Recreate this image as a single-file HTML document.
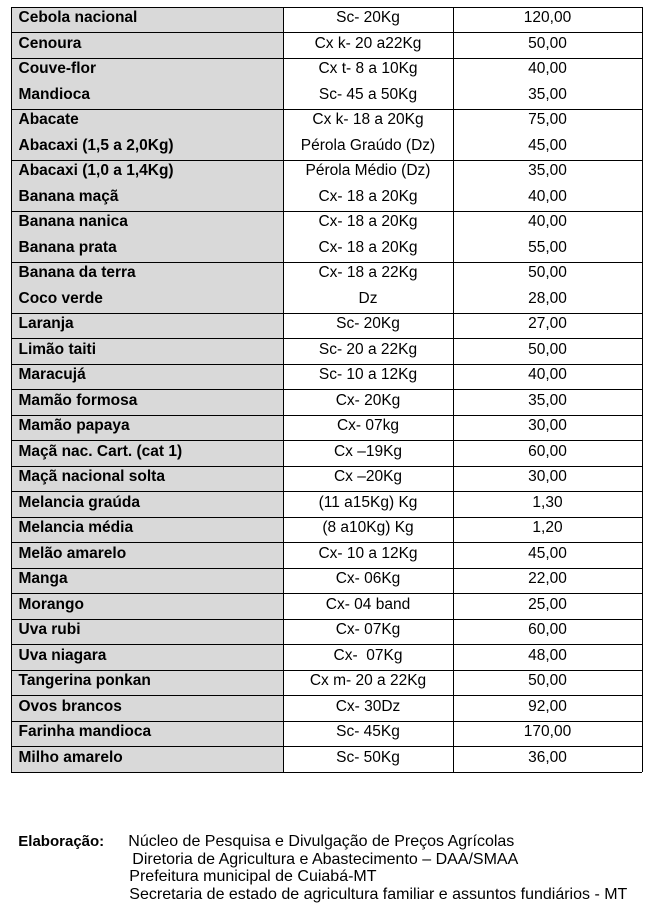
<!DOCTYPE html>
<html>
<head>
<meta charset="utf-8">
<style>
  html, body { margin:0; padding:0; background:#fff; }
  body { width:654px; height:920px; position:relative; overflow:hidden;
         font-family:"Liberation Sans", Arial, sans-serif; color:#000; }
  .gray { position:absolute; left:11px; top:7px; width:272px; height:765px; background:#d9d9d9; }
  .hl { position:absolute; left:11px; width:631px; height:1px; background:#000; }
  .vl { position:absolute; top:7px; width:1px; height:765px; background:#000; }
  .r { position:absolute; left:0; width:654px; height:21px; line-height:21px; font-size:15.5px; white-space:nowrap; }
  .c1 { position:absolute; left:18.5px; font-weight:bold; }
  .c2 { position:absolute; left:283px; width:170px; text-align:center; }
  .c3 { position:absolute; left:453px; width:189px; text-align:center; }
  .ft { position:absolute; line-height:18px; white-space:nowrap; }
</style>
</head>
<body>
<div class="gray"></div>

<div class="hl" style="top:7px"></div>
<div class="hl" style="top:32px"></div>
<div class="hl" style="top:58px"></div>
<div class="hl" style="top:109px"></div>
<div class="hl" style="top:160px"></div>
<div class="hl" style="top:211px"></div>
<div class="hl" style="top:262px"></div>
<div class="hl" style="top:313px"></div>
<div class="hl" style="top:338px"></div>
<div class="hl" style="top:364px"></div>
<div class="hl" style="top:389px"></div>
<div class="hl" style="top:415px"></div>
<div class="hl" style="top:440px"></div>
<div class="hl" style="top:466px"></div>
<div class="hl" style="top:491px"></div>
<div class="hl" style="top:517px"></div>
<div class="hl" style="top:542px"></div>
<div class="hl" style="top:568px"></div>
<div class="hl" style="top:593px"></div>
<div class="hl" style="top:619px"></div>
<div class="hl" style="top:644px"></div>
<div class="hl" style="top:670px"></div>
<div class="hl" style="top:695px"></div>
<div class="hl" style="top:721px"></div>
<div class="hl" style="top:746px"></div>
<div class="hl" style="top:772px"></div>

<div class="vl" style="left:11px"></div>
<div class="vl" style="left:283px"></div>
<div class="vl" style="left:453px"></div>
<div class="vl" style="left:642px"></div>

<div class="r" style="top:7px"><span class="c1">Cebola nacional</span><span class="c2">Sc- 20Kg</span><span class="c3">120,00</span></div>
<div class="r" style="top:32.5px"><span class="c1">Cenoura</span><span class="c2">Cx k- 20 a22Kg</span><span class="c3">50,00</span></div>
<div class="r" style="top:58px"><span class="c1">Couve-flor</span><span class="c2">Cx t- 8 a 10Kg</span><span class="c3">40,00</span></div>
<div class="r" style="top:83.5px"><span class="c1">Mandioca</span><span class="c2">Sc- 45 a 50Kg</span><span class="c3">35,00</span></div>
<div class="r" style="top:109px"><span class="c1">Abacate</span><span class="c2">Cx k- 18 a 20Kg</span><span class="c3">75,00</span></div>
<div class="r" style="top:134.5px"><span class="c1">Abacaxi (1,5 a 2,0Kg)</span><span class="c2">Pérola Graúdo (Dz)</span><span class="c3">45,00</span></div>
<div class="r" style="top:160px"><span class="c1">Abacaxi (1,0 a 1,4Kg)</span><span class="c2">Pérola Médio (Dz)</span><span class="c3">35,00</span></div>
<div class="r" style="top:185.5px"><span class="c1">Banana maçã</span><span class="c2">Cx- 18 a 20Kg</span><span class="c3">40,00</span></div>
<div class="r" style="top:211px"><span class="c1">Banana nanica</span><span class="c2">Cx- 18 a 20Kg</span><span class="c3">40,00</span></div>
<div class="r" style="top:236.5px"><span class="c1">Banana prata</span><span class="c2">Cx- 18 a 20Kg</span><span class="c3">55,00</span></div>
<div class="r" style="top:262px"><span class="c1">Banana da terra</span><span class="c2">Cx- 18 a 22Kg</span><span class="c3">50,00</span></div>
<div class="r" style="top:287.5px"><span class="c1">Coco verde</span><span class="c2">Dz</span><span class="c3">28,00</span></div>
<div class="r" style="top:313px"><span class="c1">Laranja</span><span class="c2">Sc- 20Kg</span><span class="c3">27,00</span></div>
<div class="r" style="top:338.5px"><span class="c1">Limão taiti</span><span class="c2">Sc- 20 a 22Kg</span><span class="c3">50,00</span></div>
<div class="r" style="top:364px"><span class="c1">Maracujá</span><span class="c2">Sc- 10 a 12Kg</span><span class="c3">40,00</span></div>
<div class="r" style="top:389.5px"><span class="c1">Mamão formosa</span><span class="c2">Cx- 20Kg</span><span class="c3">35,00</span></div>
<div class="r" style="top:415px"><span class="c1">Mamão papaya</span><span class="c2">Cx- 07kg</span><span class="c3">30,00</span></div>
<div class="r" style="top:440.5px"><span class="c1">Maçã nac. Cart. (cat 1)</span><span class="c2">Cx –19Kg</span><span class="c3">60,00</span></div>
<div class="r" style="top:466px"><span class="c1">Maçã nacional solta</span><span class="c2">Cx –20Kg</span><span class="c3">30,00</span></div>
<div class="r" style="top:491.5px"><span class="c1">Melancia graúda</span><span class="c2">(11 a15Kg) Kg</span><span class="c3">1,30</span></div>
<div class="r" style="top:517px"><span class="c1">Melancia média</span><span class="c2">(8 a10Kg) Kg</span><span class="c3">1,20</span></div>
<div class="r" style="top:542.5px"><span class="c1">Melão amarelo</span><span class="c2">Cx- 10 a 12Kg</span><span class="c3">45,00</span></div>
<div class="r" style="top:568px"><span class="c1">Manga</span><span class="c2">Cx- 06Kg</span><span class="c3">22,00</span></div>
<div class="r" style="top:593.5px"><span class="c1">Morango</span><span class="c2">Cx- 04 band</span><span class="c3">25,00</span></div>
<div class="r" style="top:619px"><span class="c1">Uva rubi</span><span class="c2">Cx- 07Kg</span><span class="c3">60,00</span></div>
<div class="r" style="top:644.5px"><span class="c1">Uva niagara</span><span class="c2">Cx-&nbsp; 07Kg</span><span class="c3">48,00</span></div>
<div class="r" style="top:670px"><span class="c1">Tangerina ponkan</span><span class="c2">Cx m- 20 a 22Kg</span><span class="c3">50,00</span></div>
<div class="r" style="top:695.5px"><span class="c1">Ovos brancos</span><span class="c2">Cx- 30Dz</span><span class="c3">92,00</span></div>
<div class="r" style="top:721px"><span class="c1">Farinha mandioca</span><span class="c2">Sc- 45Kg</span><span class="c3">170,00</span></div>
<div class="r" style="top:746.5px"><span class="c1">Milho amarelo</span><span class="c2">Sc- 50Kg</span><span class="c3">36,00</span></div>

<div class="ft" style="left:18.3px; top:833px; font-size:15px; font-weight:bold;">Elaboração:</div>
<div class="ft" style="left:128.3px; top:833px; font-size:16px;">Núcleo de Pesquisa e Divulgação de Preços Agrícolas</div>
<div class="ft" style="left:132.3px; top:851px; font-size:16px;">Diretoria de Agricultura e Abastecimento – DAA/SMAA</div>
<div class="ft" style="left:129.3px; top:868px; font-size:16px;">Prefeitura municipal de Cuiabá-MT</div>
<div class="ft" style="left:129.3px; top:886px; font-size:16px;">Secretaria de estado de agricultura familiar e assuntos fundiários - MT</div>
</body>
</html>
